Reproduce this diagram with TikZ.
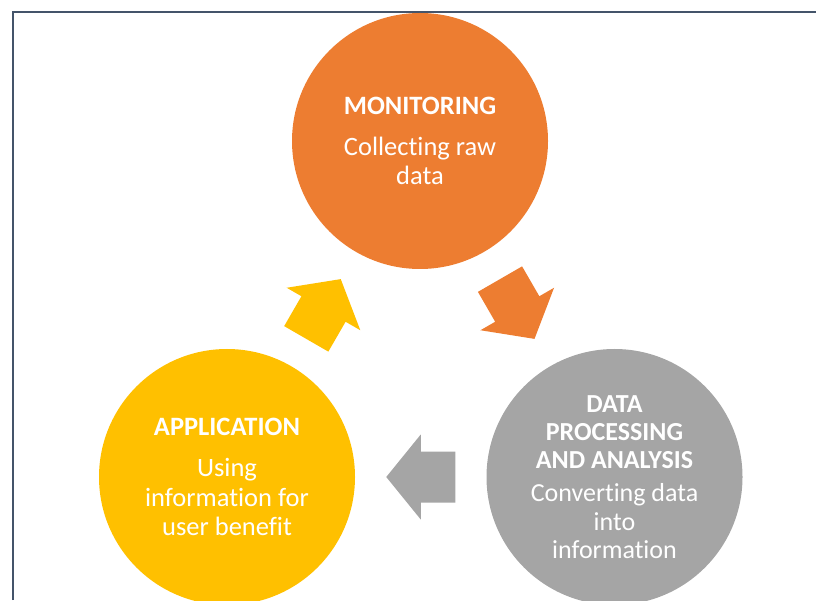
\documentclass[tikz,border=0pt]{standalone}
\usepackage{fontspec}
\setmainfont{Carlito}[Ligatures=NoCommon]
\usetikzlibrary{calc}

\definecolor{monorange}{HTML}{ED7D31}
\definecolor{procgray}{HTML}{A5A5A5}
\definecolor{appyellow}{HTML}{FFC000}
\definecolor{framecol}{HTML}{44546A}

\tikzset{
  stage/.style={circle, fill=#1, minimum size=256pt, inner sep=0pt,
    text=white, align=center},
}

% block arrow pointing along +x, centred on the origin
\newcommand{\blockarrow}{%
  (-34.5,-25.5) -- (0,-25.5) -- (0,-42.5) -- (34.5,0) -- (0,42.5) -- (0,25.5) -- (-34.5,25.5) -- cycle}

\begin{document}
\begin{tikzpicture}[x=1pt,y=1pt,font=\fontsize{26.5}{29.5}\selectfont]

\useasboundingbox (0,0) rectangle (816,600);
\clip (0,0) rectangle (816,600);

%	frame
\draw[framecol, line width=1.7pt] (12.8,0) -- (12.8,588.2) -- (816,588.2);


\node[stage=monorange] (mon) at (420,459)
  {\textbf{MONITORING}\\[11.5pt] Collecting raw\\ data};

\node[stage=procgray, font=\fontsize{26}{28.3}\selectfont] (proc) at (614.5,123)
  {\textbf{DATA}\\ \textbf{PROCESSING}\\ \textbf{AND ANALYSIS}\\[4.5pt] Converting data\\ into\\ information};

\node[stage=appyellow] (app) at (227,123)
  {\textbf{APPLICATION}\\[12pt] Using\\ information for\\ user benefit};


%\draw (mon) -- (proc) -- (app) -- cycle;

 \foreach \a/\b/\ang/\col in {mon/proc/-60/monorange, proc/app/180/procgray, app/mon/60/appyellow}{%
     \coordinate (\a-\b) at ($(\a)!0.5!(\b)$);
     \fill[\col, shift={(\a-\b)}, rotate=\ang] \blockarrow;
  }

\end{tikzpicture}
\end{document}
